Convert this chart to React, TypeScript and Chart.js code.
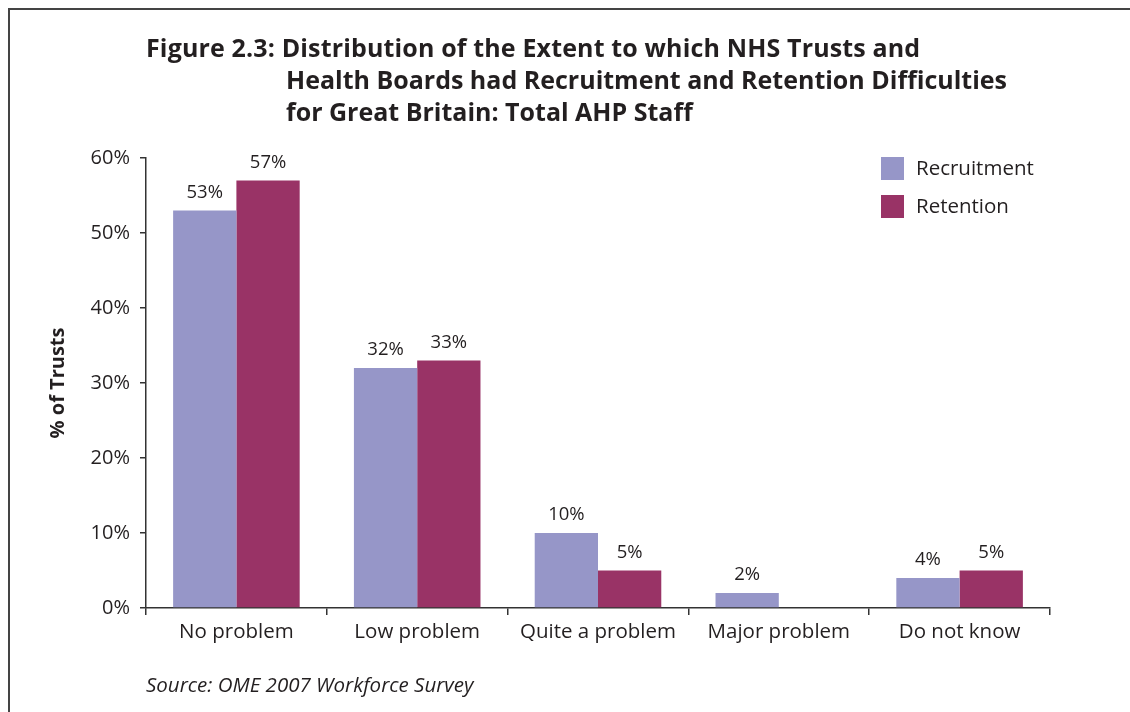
import React, { useEffect, useRef } from "react";
import { Chart, registerables } from "chart.js";

Chart.register(...registerables);

const categories = ["No problem", "Low problem", "Quite a problem", "Major problem", "Do not know"];
const recruitment = [53, 32, 10, 2, 4];
const retention = [57, 33, 5, 0, 5];
const seriesNames = ["Recruitment", "Retention"];
const yTicks = [0, 10, 20, 30, 40, 50, 60];

const FONT = "'Open Sans', 'Noto Sans', sans-serif";
const TEXT = "#231f20";
const AXIS = "#333333";
const COLORS = ["#9696c8", "#993366"];

const labelPlugin = {
  id: "barLabels",
  afterDatasetsDraw(chart: any) {
    const ctx = chart.ctx;
    ctx.save();
    ctx.font = `18.5px ${FONT}`;
    ctx.fillStyle = TEXT;
    ctx.textAlign = "center";
    ctx.textBaseline = "alphabetic";
    chart.data.datasets.forEach((ds: any, di: number) => {
      const meta = chart.getDatasetMeta(di);
      meta.data.forEach((bar: any, i: number) => {
        const v = ds.data[i];
        if (!v) return;
        ctx.fillText(v + "%", bar.x, bar.y - 13);
      });
    });
    ctx.restore();
  },
};

const legendPlugin = {
  id: "cornerLegend",
  afterDraw(chart: any) {
    const ctx = chart.ctx;
    ctx.save();
    ctx.font = `20.5px ${FONT}`;
    ctx.textBaseline = "middle";
    ctx.textAlign = "left";
    chart.data.datasets.forEach((ds: any, i: number) => {
      const y = 157 + i * 38;
      ctx.fillStyle = ds.backgroundColor;
      ctx.fillRect(881, y, 23, 23);
      ctx.fillStyle = TEXT;
      ctx.fillText(ds.label, 916, y + 12);
    });
    ctx.restore();
  },
};

function ChartCanvas() {
  const ref = useRef<HTMLCanvasElement>(null);
  useEffect(() => {
    if (!ref.current) return;
    const chart = new Chart(ref.current, {
      type: "bar",
      data: {
        labels: categories,
        datasets: [
          { label: seriesNames[0], data: recruitment, backgroundColor: COLORS[0], borderWidth: 0 },
          { label: seriesNames[1], data: retention, backgroundColor: COLORS[1], borderWidth: 0 },
        ],
      },
      options: {
        animation: false,
        responsive: false,
        maintainAspectRatio: false,
        layout: { padding: { top: 158, right: 80, bottom: 54, left: 0 } },
        datasets: { bar: { categoryPercentage: 0.7, barPercentage: 1.0 } },
        plugins: { legend: { display: false }, title: { display: false }, tooltip: { enabled: false } },
        scales: {
          x: {
            afterFit: (s: any) => { s.height = 50; },
            grid: { display: true, drawOnChartArea: false, drawTicks: true, tickLength: 7, offset: true, color: AXIS, lineWidth: 1.5 },
            border: { display: true, color: AXIS, width: 1.5 },
            ticks: { color: TEXT, font: { family: FONT, size: 20.5 }, padding: 5, maxRotation: 0, autoSkip: false },
          },
          y: {
            min: yTicks[0],
            max: yTicks[yTicks.length - 1],
            afterFit: (s: any) => { s.width = 146; },
            afterBuildTicks: (s: any) => { s.ticks = yTicks.map((v) => ({ value: v })); },
            grid: { display: true, drawOnChartArea: false, drawTicks: true, tickLength: 6, color: AXIS, lineWidth: 1.5 },
            border: { display: true, color: AXIS, width: 1.5 },
            ticks: { color: TEXT, font: { family: FONT, size: 20 }, padding: 10, callback: (v: any) => v + "%" },
            title: { display: true, text: "% of Trusts", color: TEXT, font: { family: FONT, size: 20, weight: "bold" }, padding: { top: 46, bottom: 0 } },
          },
        },
      },
      plugins: [labelPlugin, legendPlugin],
    } as any);
    return () => chart.destroy();
  }, []);
  return <canvas ref={ref} width={1130} height={712} style={{ position: "absolute", left: 0, top: 0, width: 1130, height: 712 }} />;
}

export default function App() {
  const titleStyle: React.CSSProperties = {
    position: "absolute",
    fontFamily: FONT,
    fontWeight: 700,
    fontSize: 25,
    lineHeight: "32px",
    color: TEXT,
    whiteSpace: "nowrap",
  };
  return (
    <div style={{ position: "fixed", left: 0, top: 0, width: 1130, height: 712, background: "#fff", overflow: "hidden" }}>
      <div style={{ position: "absolute", left: 8, top: 8, width: 1200, height: 800, borderTop: "2px solid #444", borderLeft: "2px solid #444" }} />
      <ChartCanvas />
      <div style={{ ...titleStyle, left: 146, top: 31, letterSpacing: "0.15px" }}>Figure 2.3: Distribution of the Extent to which NHS Trusts and</div>
      <div style={{ ...titleStyle, left: 286, top: 63 }}>Health Boards had Recruitment and Retention Difficulties</div>
      <div style={{ ...titleStyle, left: 286, top: 95 }}>for Great Britain: Total AHP Staff</div>
      <div style={{ position: "absolute", left: 146, top: 671, fontFamily: FONT, fontStyle: "italic", fontSize: 20.5, lineHeight: "26px", color: TEXT, whiteSpace: "nowrap" }}>
        Source: OME 2007 Workforce Survey
      </div>
    </div>
  );
}
